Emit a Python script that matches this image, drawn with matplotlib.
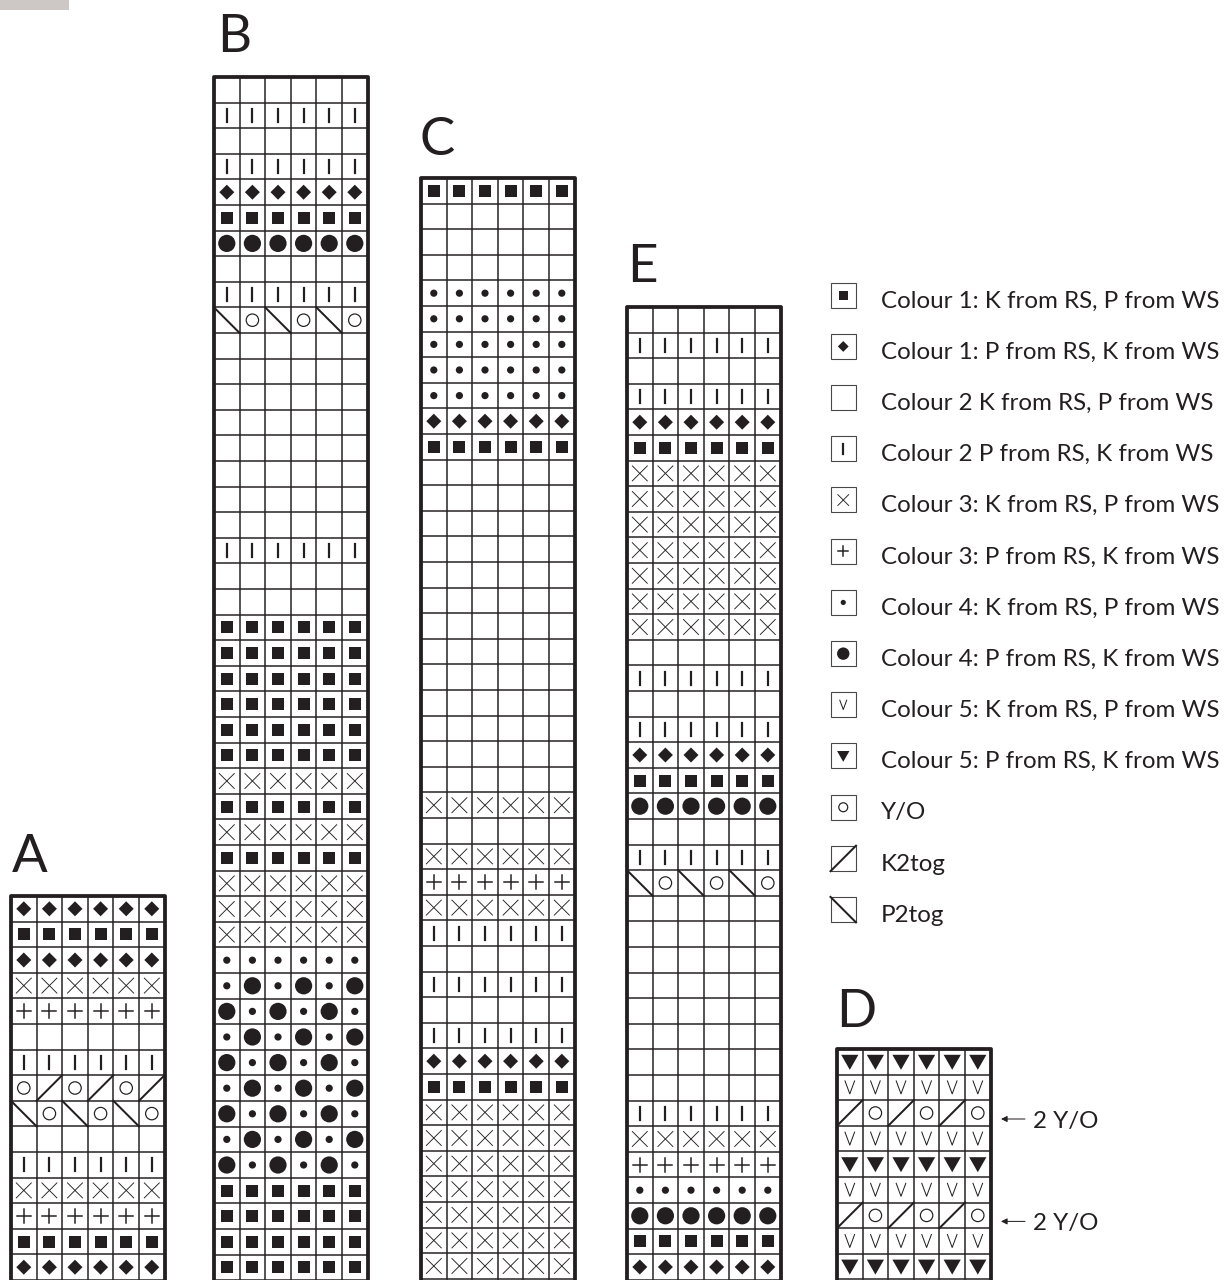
import matplotlib
matplotlib.use("Agg")
import matplotlib.pyplot as plt
from matplotlib.patches import Rectangle, Polygon, Circle
from matplotlib.lines import Line2D

# symbol codes: . empty, s square, d diamond, | bar, x cross, + plus,
# * small dot, @ big dot, o yarn over, / k2tog, \ p2tog, v V, T triangle
chart_a = ["dddddd", "ssssss", "dddddd", "xxxxxx", "++++++", "......",
           "||||||", "o/o/o/", "\\o\\o\\o", "......", "||||||", "xxxxxx",
           "++++++", "ssssss", "dddddd"]

chart_b = (["......", "||||||", "......", "||||||", "dddddd", "ssssss",
            "@@@@@@", "......", "||||||", "\\o\\o\\o"] + ["......"] * 8 +
           ["||||||", "......", "......"] + ["ssssss"] * 6 +
           ["xxxxxx", "ssssss", "xxxxxx", "ssssss"] + ["xxxxxx"] * 3 +
           ["******"] + ["*@*@*@", "@*@*@*"] * 4 + ["ssssss"] * 4)

chart_c = (["ssssss"] + ["......"] * 3 + ["******"] * 5 +
           ["dddddd", "ssssss"] + ["......"] * 13 +
           ["xxxxxx", "......", "xxxxxx", "++++++", "xxxxxx", "||||||",
            "......", "||||||", "......", "||||||", "dddddd", "ssssss"] +
           ["xxxxxx"] * 7)

chart_e = (["......", "||||||", "......", "||||||", "dddddd", "ssssss"] +
           ["xxxxxx"] * 7 +
           ["......", "||||||", "......", "||||||", "dddddd", "ssssss",
            "@@@@@@", "......", "||||||", "\\o\\o\\o"] + ["......"] * 8 +
           ["||||||", "xxxxxx", "++++++", "******", "@@@@@@", "ssssss",
            "dddddd"])

chart_d = ["TTTTTT", "vvvvvv", "/o/o/o", "vvvvvv", "TTTTTT", "vvvvvv",
           "/o/o/o", "vvvvvv", "TTTTTT"]

chart_names = ["A", "B", "C", "E", "D"]
charts = [chart_a, chart_b, chart_c, chart_e, chart_d]

legend_codes = ["s", "d", ".", "|", "x", "+", "*", "@", "v", "T", "o", "/", "\\"]
legend_labels = ["Colour 1: K from RS, P from WS",
                 "Colour 1: P from RS, K from WS",
                 "Colour 2 K from RS, P from WS",
                 "Colour 2 P from RS, K from WS",
                 "Colour 3: K from RS, P from WS",
                 "Colour 3: P from RS, K from WS",
                 "Colour 4: K from RS, P from WS",
                 "Colour 4: P from RS, K from WS",
                 "Colour 5: K from RS, P from WS",
                 "Colour 5: P from RS, K from WS",
                 "Y/O", "K2tog", "P2tog"]

yo_rows_d = [2, 6]
yo_note = "2 Y/O"

# layout (pixels)
W, H = 1227, 1280
CELL = 25.6
origins = [(11, 896), (214, 77), (421, 178), (627, 307), (837, 1049)]
letter_pos = [(12, 872), (217, 52), (419, 155), (627, 282), (836, 1027)]
INK = "#231f20"
PX = 0.72  # points per pixel at dpi 100

plt.rcParams['font.family'] = ['Lato', 'DejaVu Sans']

fig = plt.figure(figsize=(W / 100, H / 100), dpi=100)
ax = fig.add_axes([0, 0, 1, 1])
ax.set_xlim(0, W)
ax.set_ylim(H, 0)
ax.axis("off")


def line(xs, ys, w, color=INK, **kw):
    ax.add_line(Line2D(xs, ys, lw=w * PX, color=color, **kw))


def draw_symbol(code, x0, y0, size, k=1.0):
    cx, cy = x0 + size / 2, y0 + size / 2
    if code == "s":
        a = 12 * k
        ax.add_patch(Rectangle((cx - a / 2, cy - a / 2), a, a, color=INK, lw=0))
    elif code == "d":
        a = 7.5 * k
        ax.add_patch(Polygon([(cx, cy - a), (cx + a, cy), (cx, cy + a), (cx - a, cy)],
                             closed=True, color=INK, lw=0))
    elif code == "|":
        line([cx, cx], [cy - 6.5 * k, cy + 6.5 * k], 2.2)
    elif code == "x":
        a = 7.5 * k
        line([cx - a, cx + a], [cy - a, cy + a], 0.9)
        line([cx - a, cx + a], [cy + a, cy - a], 0.9)
    elif code == "+":
        a = 7 * k
        line([cx - a, cx + a], [cy, cy], 1.5)
        line([cx, cx], [cy - a, cy + a], 1.5)
    elif code == "*":
        ax.add_patch(Circle((cx, cy), 3.6 * k, color=INK, lw=0))
    elif code == "@":
        ax.add_patch(Circle((cx, cy), 8.6 * k, color=INK, lw=0))
    elif code == "o":
        ax.add_patch(Circle((cx, cy), 6.2 * k, fill=False, ec=INK, lw=1.2 * PX))
    elif code == "/":
        line([x0, x0 + size], [y0 + size, y0], 2.0)
    elif code == "\\":
        line([x0, x0 + size], [y0, y0 + size], 2.0)
    elif code == "v":
        a = 4.8 * k
        b = 6.5 * k
        line([cx - a, cx, cx + a], [cy - b, cy + b, cy - b], 1.0)
    elif code == "T":
        ax.add_patch(Polygon([(cx - 8.6 * k, cy - 7 * k), (cx + 8.6 * k, cy - 7 * k),
                              (cx, cy + 8 * k)], closed=True, color=INK, lw=0))


# grey tab in the corner
ax.add_patch(Rectangle((0, 0), 69, 10, color="#cdc8c6", lw=0))

for name, rows, (ox, oy), (lx, ly) in zip(chart_names, charts, origins, letter_pos):
    ncol = len(rows[0])
    nrow = len(rows)
    right = ox + ncol * CELL
    bottom = oy + nrow * CELL
    for r, row in enumerate(rows):
        for c, code in enumerate(row):
            draw_symbol(code, ox + c * CELL, oy + r * CELL, CELL)
    for c in range(1, ncol):
        line([ox + c * CELL] * 2, [oy, bottom], 1.5)
    for r in range(1, nrow + 1):
        line([ox, right], [oy + r * CELL] * 2, 1.5)
    line([ox, ox, right, right], [bottom + 2, oy, oy, bottom + 2], 3.8,
         solid_joinstyle="round")
    ax.text(lx, ly, name, fontsize=38, color=INK, ha="left", va="baseline")

# legend
for i, (code, label) in enumerate(zip(legend_codes, legend_labels)):
    y = 295 + i * 51.2
    ax.add_patch(Rectangle((830.5, y - 12.5), 25.5, 25, fill=False,
                           ec="#4a4748", lw=1.1 * PX))
    draw_symbol(code, 830.5, y - 12.5, 25.5, k=0.72)
    ax.text(881, y + 12.5, label, fontsize=17.4, color=INK, ha="left", va="baseline")

# yarn-over notes beside chart D
dx, dy = origins[4]
for r in yo_rows_d:
    y = dy + (r + 0.5) * CELL + 6
    ax.annotate("", xy=(1001, y), xytext=(1025, y),
                arrowprops=dict(arrowstyle="-|>", color=INK, lw=1.0 * PX,
                                mutation_scale=9, shrinkA=0, shrinkB=0))
    ax.text(1033, y + 9, yo_note, fontsize=17.4, color=INK, ha="left", va="baseline")

fig.savefig("out.png", dpi=100, facecolor="white")
